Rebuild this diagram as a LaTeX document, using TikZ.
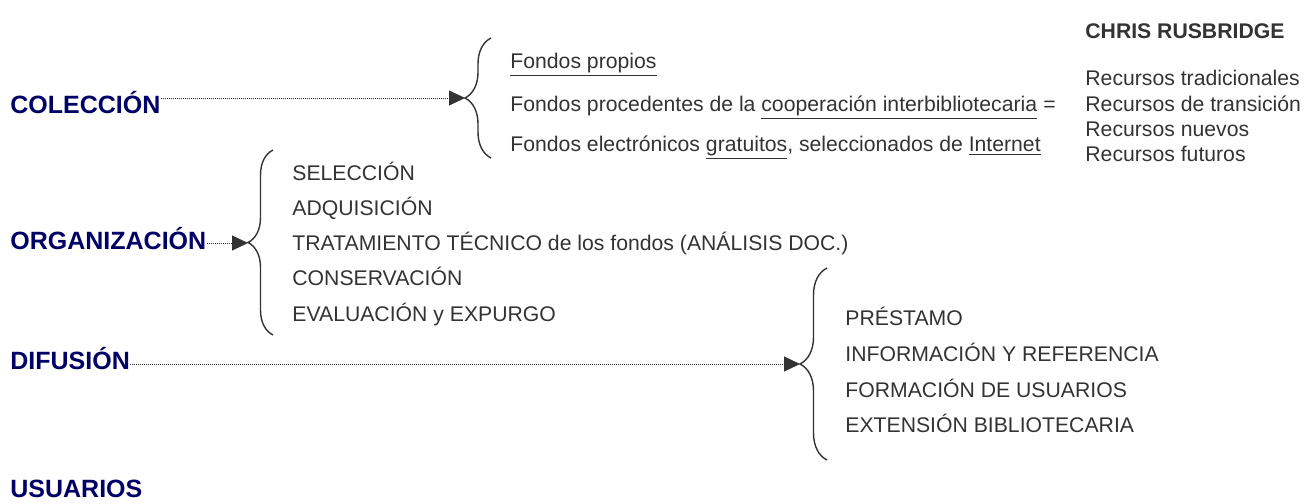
\documentclass[tikz,border=0pt]{standalone}
\usepackage{fontspec}
\setmainfont{Liberation Sans}
\usetikzlibrary{arrows.meta,decorations.pathreplacing}
\definecolor{navy}{RGB}{0,0,102}
\definecolor{txtgray}{RGB}{51,51,51}

\begin{document}
\begin{tikzpicture}[x=0.5pt,y=-0.5pt,
  head/.style={font=\fontsize{12.5}{14}\selectfont\bfseries,text=navy,inner sep=0pt,anchor=base west},
  item/.style={font=\fontsize{10.6}{13}\selectfont,text=txtgray,inner sep=0pt,anchor=base west},
  link/.style={draw=txtgray,line width=0.5pt,dash pattern=on 0.5pt off 0.5pt,-{Triangle[length=8pt,width=7.5pt]}},
  curly/.style={draw=txtgray,line width=0.7pt,decorate,decoration={brace,amplitude=#1}}]
\useasboundingbox (0,0) rectangle (1304,503);
%main headings
\node[head] (colec) at (10,113) {COLECCIÓN};
\node[head] (organ) at (10,249) {ORGANIZACIÓN};
\node[head] (difus) at (10,369) {DIFUSIÓN};
\node[head] (usuar) at (10,497) {USUARIOS};
%brace tips
\coordinate (tipA) at (465,98);
\coordinate (tipB) at (248,243);
\coordinate (tipC) at (800,364);
%braces
\draw[curly=13pt] (491,158)--(491,38);
\draw[curly=12.5pt] (273,335)--(273,150);
\draw[curly=13.5pt] (827,460)--(827,268);
%dotted arrows
\draw[link] (colec.east|-tipA)--(tipA);
\draw[link] (organ.east|-tipB)--(tipB);
\draw[link] (difus.east|-tipC)--(tipC);
%collection
\node[item] (fprop) at (510,68) {\underline{Fondos propios}};
\node[item] (fproc) at (510,111) {Fondos procedentes de la \underline{cooperación interbibliotecaria}};
\node[item] (felec) at (510,151) {Fondos electrónicos \underline{gratuitos}, seleccionados de \underline{Internet}};
\node[item] (equal) at (1043,111) {=};
%rusbridge
\node[item,font=\fontsize{10.6}{13}\selectfont\bfseries] (chris) at (1085,38) {CHRIS RUSBRIDGE};
\node[item] (rtrad) at (1085,85) {Recursos tradicionales};
\node[item] (rtran) at (1085,111) {Recursos de transición};
\node[item] (rnuev) at (1085,136) {Recursos nuevos};
\node[item] (rfut) at (1085,161) {Recursos futuros};
%organization
\node[item] (selec) at (292,180) {SELECCIÓN};
\node[item] (adqui) at (292,215) {ADQUISICIÓN};
\node[item] (trata) at (292,250) {TRATAMIENTO TÉCNICO de los fondos (ANÁLISIS DOC.)};
\node[item] (conse) at (292,285) {CONSERVACIÓN};
\node[item] (evalu) at (292,321) {EVALUACIÓN y EXPURGO};
%diffusion
\node[item] (prest) at (845,325) {PRÉSTAMO};
\node[item] (infor) at (845,361) {INFORMACIÓN Y REFERENCIA};
\node[item] (forma) at (845,397) {FORMACIÓN DE USUARIOS};
\node[item] (exten) at (845,432) {EXTENSIÓN BIBLIOTECARIA};
\end{tikzpicture}
\end{document}
